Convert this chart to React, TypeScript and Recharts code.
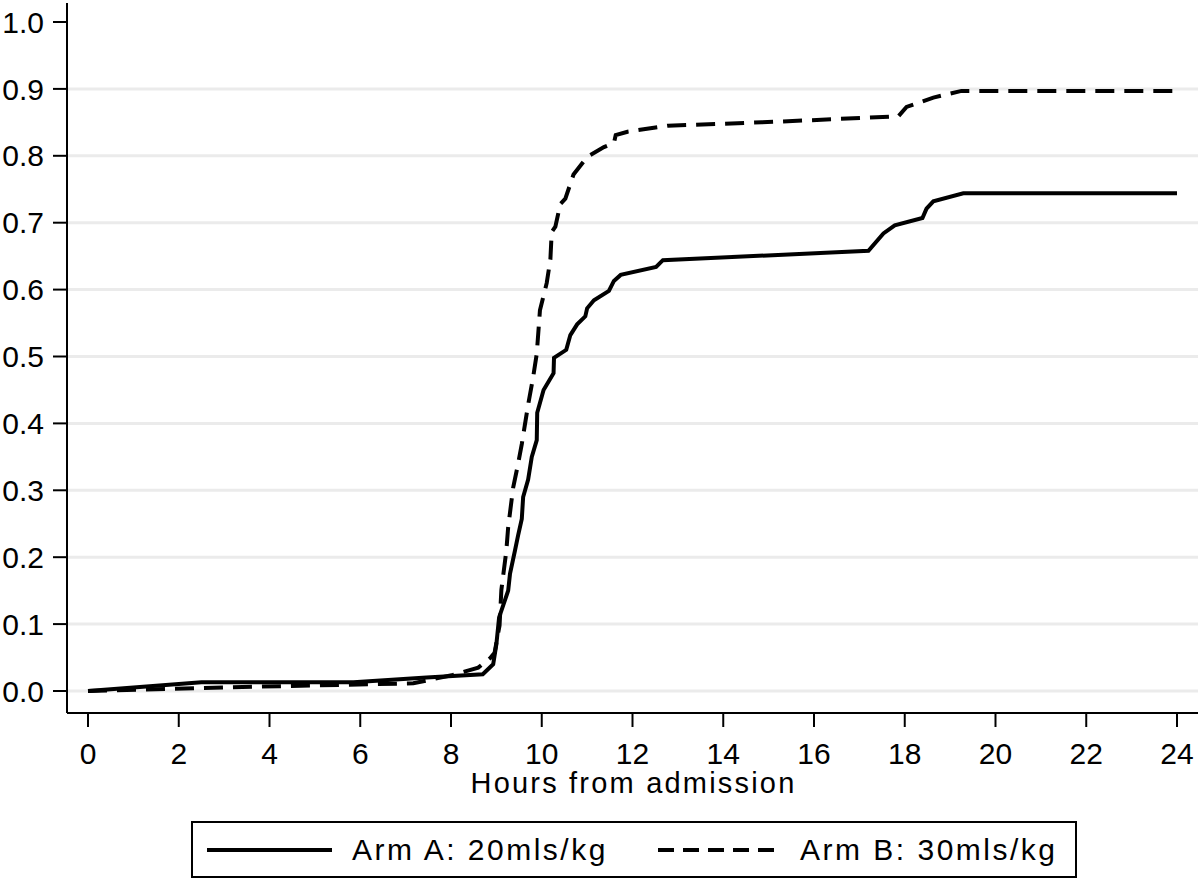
import { LineChart, Line, XAxis, YAxis, CartesianGrid, Legend, Label } from 'recharts';

// Cumulative proportion by hours from admission
const armAHours = [
  0, 2.5, 5.85, 7.46, 8.7, 8.93, 9.0, 9.06, 9.15, 9.26, 9.3, 9.41, 9.48, 9.56, 9.59, 9.7, 9.78, 9.89, 9.9,
  10.04, 10.26, 10.27, 10.54, 10.63, 10.78, 10.96, 11.0, 11.15, 11.48, 11.59, 11.74, 12.52, 12.67, 17.2,
  17.53, 17.78, 18.39, 18.48, 18.63, 19.29, 24.0,
];
const armAValues = [
  0, 0.013, 0.013, 0.02, 0.025, 0.04, 0.07, 0.11, 0.128, 0.15, 0.175, 0.21, 0.233, 0.257, 0.29, 0.316, 0.35,
  0.375, 0.416, 0.45, 0.475, 0.498, 0.51, 0.532, 0.548, 0.56, 0.572, 0.584, 0.598, 0.613, 0.622, 0.634,
  0.644, 0.658, 0.684, 0.696, 0.707, 0.721, 0.732, 0.744, 0.744,
];

const armBHours = [
  0, 3.79, 7.17, 8.04, 8.6, 8.86, 8.96, 9.07, 9.11, 9.22, 9.26, 9.37, 9.48, 9.56, 9.7, 9.81, 9.89, 9.96,
  10.11, 10.19, 10.22, 10.3, 10.41, 10.52, 10.67, 10.7, 10.93, 11.07, 11.37, 11.59, 11.63, 11.89, 12.78,
  14.85, 17.86, 18.04, 18.63, 19.25, 24.0,
];
const armBValues = [
  0, 0.0065, 0.0115, 0.024, 0.035, 0.049, 0.057, 0.098, 0.151, 0.21, 0.245, 0.304, 0.34, 0.369, 0.428,
  0.469, 0.504, 0.569, 0.61, 0.645, 0.686, 0.694, 0.728, 0.736, 0.766, 0.772, 0.792, 0.801, 0.813, 0.819,
  0.831, 0.836, 0.845, 0.85, 0.859, 0.873, 0.887, 0.897, 0.897,
];

const xTicks = [0, 2, 4, 6, 8, 10, 12, 14, 16, 18, 20, 22, 24];
const yTicks = [0, 0.1, 0.2, 0.3, 0.4, 0.5, 0.6, 0.7, 0.8, 0.9, 1.0];
const gridValues = [0, 0.1, 0.2, 0.3, 0.4, 0.5, 0.6, 0.7, 0.8, 0.9];

const seriesNames = ['Arm A: 20mls/kg', 'Arm B: 30mls/kg'];
const seriesDash = ['', '19 10'];

const armA = armAHours.map((h, i) => ({ h, v: armAValues[i] }));
const armB = armBHours.map((h, i) => ({ h, v: armBValues[i] }));

const FONT = '"Liberation Sans", Arial, Helvetica, sans-serif';
const tickStyle = { fontSize: 30, fill: '#000', fontFamily: FONT };

function AxisTitle(props: any) {
  const { x, y, width, height } = props.viewBox;
  return (
    <text
      x={x + width / 2 + 1}
      y={y + height - 28}
      textAnchor="middle"
      fontSize={29}
      letterSpacing={2.2}
      fontFamily={FONT}
      fill="#000"
    >
      Hours from admission
    </text>
  );
}

function KeyBox() {
  const sample = (dash: string, w: number) => (
    <svg width={w} height={8} style={{ display: 'block' }}>
      <line x1={0} y1={4} x2={w} y2={4} stroke="#000" strokeWidth={4} strokeDasharray={dash || undefined} />
    </svg>
  );
  return (
    <div
      style={{
        marginLeft: 191,
        width: 886,
        height: 57,
        boxSizing: 'border-box',
        border: '2px solid #000',
        display: 'flex',
        alignItems: 'center',
        fontFamily: FONT,
        fontSize: 30,
        letterSpacing: 2.5,
        color: '#000',
      }}
    >
      <div style={{ marginLeft: 14 }}>{sample(seriesDash[0], 125)}</div>
      <div style={{ marginLeft: 20, width: 306, whiteSpace: 'nowrap' }}>{seriesNames[0]}</div>
      <div>{sample('16 9', 122)}</div>
      <div style={{ marginLeft: 20, whiteSpace: 'nowrap' }}>{seriesNames[1]}</div>
    </div>
  );
}

export default function App() {
  return (
    <div style={{ position: 'absolute', left: 0, top: 0, background: '#fff' }}>
      <LineChart
        width={1200}
        height={884}
        margin={{ top: 3, right: 2, bottom: 6, left: 0 }}
        style={{ fontFamily: FONT }}
      >
        <CartesianGrid
          vertical={false}
          horizontalValues={gridValues}
          stroke="#ebebeb"
          strokeWidth={3}
        />
        <XAxis
          type="number"
          dataKey="h"
          domain={[-0.463, 24.463]}
          ticks={xTicks}
          allowDataOverflow
          height={108}
          tickSize={14}
          tickMargin={16}
          tick={tickStyle}
          axisLine={{ stroke: '#000', strokeWidth: 2 }}
          tickLine={{ stroke: '#000', strokeWidth: 2 }}
        >
          <Label content={AxisTitle} />
        </XAxis>
        <YAxis
          type="number"
          domain={[-0.0329, 1.0284]}
          ticks={yTicks}
          allowDataOverflow
          width={67}
          tickSize={14}
          tickMargin={9}
          tick={tickStyle}
          tickFormatter={(v: number) => v.toFixed(1)}
          axisLine={{ stroke: '#000', strokeWidth: 2 }}
          tickLine={{ stroke: '#000', strokeWidth: 2 }}
        />
        <Legend verticalAlign="bottom" align="left" content={() => <KeyBox />} />
        <Line
          data={armA}
          dataKey="v"
          name={seriesNames[0]}
          type="linear"
          stroke="#000"
          strokeWidth={4}
          dot={false}
          activeDot={false}
          isAnimationActive={false}
        />
        <Line
          data={armB}
          dataKey="v"
          name={seriesNames[1]}
          type="linear"
          stroke="#000"
          strokeWidth={4}
          strokeDasharray={seriesDash[1]}
          dot={false}
          activeDot={false}
          isAnimationActive={false}
        />
      </LineChart>
    </div>
  );
}
